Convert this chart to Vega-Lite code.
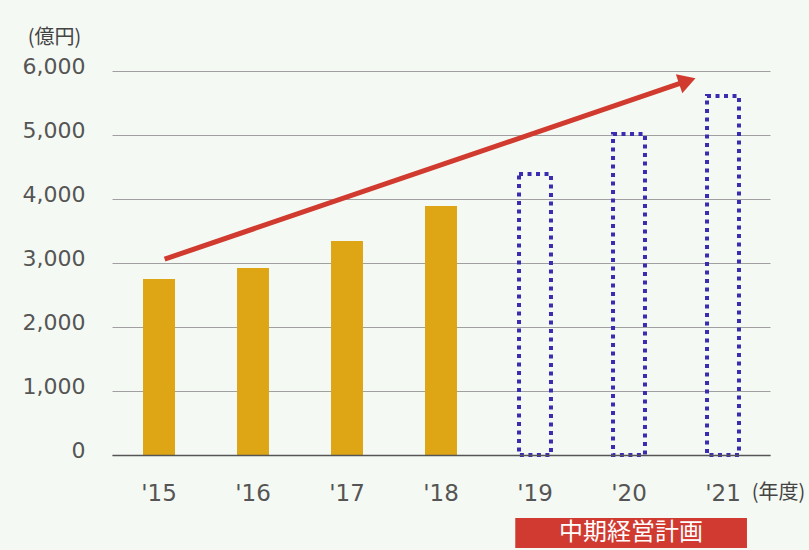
{
  "$schema": "https://vega.github.io/schema/vega-lite/v6.json",
  "width": 658,
  "height": 384,
  "autosize": "none",
  "padding": {"left": 112, "top": 71, "right": 39, "bottom": 95},
  "background": "#f5f9f3",
  "config": {"view": {"stroke": null}},
  "datasets": {
    "bars": [
      {"year": "'15", "value": 2750, "kind": "実績"},
      {"year": "'16", "value": 2920, "kind": "実績"},
      {"year": "'17", "value": 3345, "kind": "実績"},
      {"year": "'18", "value": 3890, "kind": "実績"},
      {"year": "'19", "value": 4390, "kind": "計画"},
      {"year": "'20", "value": 5015, "kind": "計画"},
      {"year": "'21", "value": 5610, "kind": "計画"}
    ],
    "arrow": [
      {"t": 0.56, "v": 3060},
      {"t": 6.12, "v": 5845}
    ],
    "head": [
      {"t": 6.12, "v": 5845}
    ],
    "plan": [
      {"t": 4.29, "t2": 6.755, "v": -984, "v2": -1453, "tx": 5.52, "ty": -1218, "label": "中期経営計画"}
    ]
  },
  "layer": [
    {
      "data": {"name": "bars"},
      "encoding": {
        "x": {
          "field": "year", "type": "ordinal", "sort": null,
          "scale": {"paddingInner": 0.66, "paddingOuter": 0.33},
          "axis": {
            "title": "(年度)", "titleX": 666, "titleY": 37, "titleAlign": "center", "titleBaseline": "middle",
            "titleFont": "Noto Sans CJK JP", "titleFontSize": 20, "titleFontWeight": "normal", "titleColor": "#444",
            "labelAngle": 0, "labelFont": "DejaVu Sans", "labelFontSize": 23, "labelColor": "#555",
            "labelBaseline": "alphabetic", "labelPadding": 45, "ticks": false, "tickSize": 0,
            "domainColor": "#555", "domainWidth": 1.5, "zindex": 1
          }
        },
        "y": {
          "field": "value", "type": "quantitative",
          "scale": {"domain": [0, 6000], "nice": false},
          "axis": {
            "values": [0, 1000, 2000, 3000, 4000, 5000, 6000], "format": ",d",
            "grid": true, "gridColor": "#a0a0a0", "gridWidth": 1, "domain": false, "ticks": false, "tickSize": 0,
            "labelFont": "DejaVu Sans", "labelFontSize": 22, "labelColor": "#555", "labelPadding": 27, "labelOffset": -5,
            "title": "(億円)", "titleAngle": 0, "titleX": -58, "titleY": -34, "titleAlign": "center", "titleBaseline": "middle",
            "titleFont": "Noto Sans CJK JP", "titleFontSize": 20, "titleFontWeight": "normal", "titleColor": "#444"
          }
        }
      },
      "layer": [
        {
          "transform": [{"filter": "datum.kind === '実績'"}],
          "mark": {"type": "bar", "color": "#dea514"}
        },
        {
          "transform": [{"filter": "datum.kind === '計画'"}],
          "mark": {"type": "bar", "fill": null, "fillOpacity": 0, "stroke": "#3a2cb2", "strokeWidth": 4, "strokeDash": [4, 4.5], "strokeCap": "butt"}
        }
      ]
    },
    {
      "layer": [
        {
          "data": {"name": "arrow"},
          "mark": {"type": "line", "color": "#d13b2f", "strokeWidth": 5, "strokeCap": "butt"},
          "encoding": {
            "x": {"field": "t", "type": "quantitative", "scale": {"domain": [0, 7], "nice": false, "zero": false}, "axis": null},
            "y": {"field": "v", "type": "quantitative", "scale": {"domain": [0, 6000], "nice": false}}
          }
        },
        {
          "data": {"name": "head"},
          "mark": {"type": "point", "shape": "triangle-right", "size": 400, "angle": 341.2, "filled": true, "color": "#d13b2f", "opacity": 1},
          "encoding": {
            "x": {"field": "t", "type": "quantitative", "scale": {"domain": [0, 7], "nice": false, "zero": false}, "axis": null},
            "y": {"field": "v", "type": "quantitative", "scale": {"domain": [0, 6000], "nice": false}}
          }
        },
        {
          "data": {"name": "plan"},
          "mark": {"type": "rect", "color": "#d13a30"},
          "encoding": {
            "x": {"field": "t", "type": "quantitative", "scale": {"domain": [0, 7], "nice": false, "zero": false}, "axis": null},
            "x2": {"field": "t2"},
            "y": {"field": "v", "type": "quantitative", "scale": {"domain": [0, 6000], "nice": false}},
            "y2": {"field": "v2"}
          }
        },
        {
          "data": {"name": "plan"},
          "mark": {"type": "text", "color": "white", "font": "Noto Sans CJK JP", "fontSize": 24, "baseline": "middle", "align": "center"},
          "encoding": {
            "x": {"field": "tx", "type": "quantitative", "scale": {"domain": [0, 7], "nice": false, "zero": false}, "axis": null},
            "y": {"field": "ty", "type": "quantitative", "scale": {"domain": [0, 6000], "nice": false}},
            "text": {"field": "label"}
          }
        }
      ]
    }
  ],
  "resolve": {"scale": {"x": "independent"}, "axis": {"x": "independent"}}
}
